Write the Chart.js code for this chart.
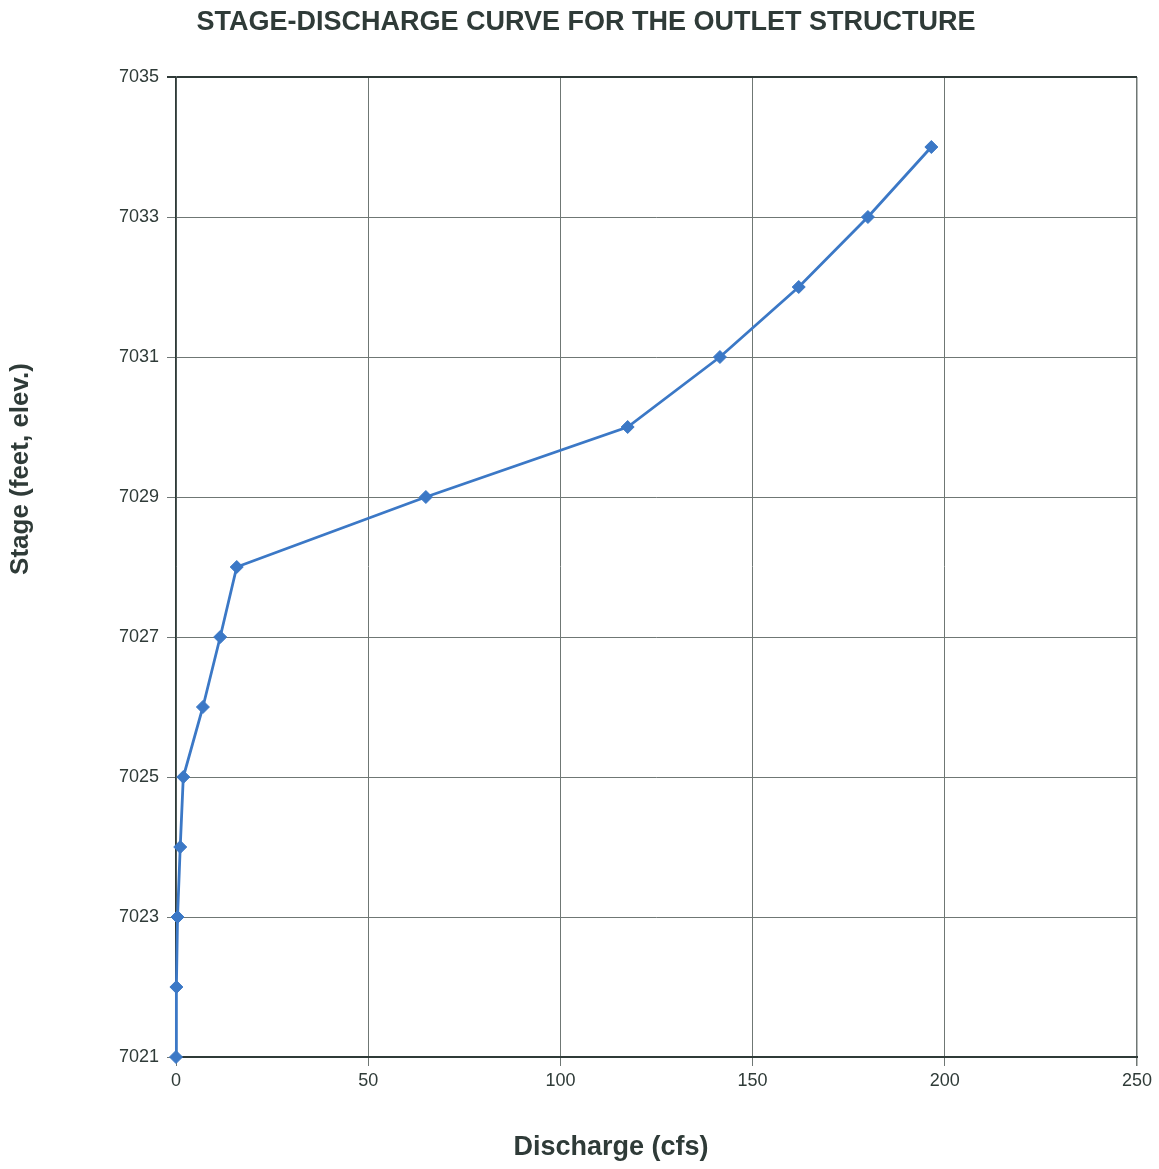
<!DOCTYPE html>
<html>
<head>
<meta charset="utf-8">
<title>Stage-Discharge Curve</title>
<script src="https://cdn.jsdelivr.net/npm/chart.js@4/dist/chart.umd.min.js"></script>
<style>
    html, body { margin: 0; padding: 0; background: #ffffff; }
    #stageChart { display: block; }
</style>
</head>
<body>
<canvas id="stageChart" width="1159" height="1169"></canvas>
<script>
// rating table for the outlet structure
const discharge = [0, 0.1, 0.4, 1.1, 1.9, 7.0, 11.5, 15.8, 65.0, 117.5, 141.5, 162.0, 180.0, 196.5];
const stage = [7021, 7022, 7023, 7024, 7025, 7026, 7027, 7028, 7029, 7030, 7031, 7032, 7033, 7034];

const xTicks = [0, 50, 100, 150, 200, 250];
const yTicks = [7021, 7023, 7025, 7027, 7029, 7031, 7033, 7035];

const chartTitle = "STAGE-DISCHARGE CURVE FOR THE OUTLET STRUCTURE";
const xTitle = "Discharge (cfs)";
const yTitle = "Stage (feet, elev.)";

const inkColor = "#2f3b38";
const gridColor = "#6f7774";
const curveColor = "#3b78c6";
const fontFamily = "'Liberation Sans', Arial, sans-serif";

// title and axis captions are placed by hand (they are not centred on the plot)
const captions = {
    id: "captions",
    afterDraw(chart) {
        const ctx = chart.ctx;
        ctx.save();
        ctx.fillStyle = inkColor;
        ctx.textAlign = "center";
        ctx.textBaseline = "middle";

        ctx.font = "bold 27px " + fontFamily;
        ctx.fillText(chartTitle, 586, 23);

        ctx.font = "bold 27px " + fontFamily;
        ctx.fillText(xTitle, 611, 1148);

        ctx.translate(21, 469);
        ctx.rotate(-Math.PI / 2);
        ctx.font = "bold 26px " + fontFamily;
        ctx.fillText(yTitle, 0, 0);
        ctx.restore();
    }
};

const points = discharge.map((q, i) => ({ x: q, y: stage[i] }));

const ctx = document.getElementById("stageChart").getContext("2d");
new Chart(ctx, {
    type: "scatter",
    data: {
        datasets: [{
            label: "Stage",
            data: points,
            showLine: true,
            borderColor: curveColor,
            borderWidth: 2.8,
            backgroundColor: curveColor,
            pointStyle: "rectRot",
            pointRadius: 6.5,
            pointBorderWidth: 1,
            pointBorderColor: curveColor,
            clip: false
        }]
    },
    options: {
        responsive: false,
        animation: false,
        layout: {
            padding: { left: 110, right: 22, bottom: 67, top: 77 }
        },
        plugins: {
            legend: { display: false },
            tooltip: { enabled: false },
            title: { display: false }
        },
        scales: {
            x: {
                type: "linear",
                min: 0,
                max: 250,
                afterBuildTicks: scale => { scale.ticks = xTicks.map(v => ({ value: v })); },
                afterFit: scale => { scale.height = 45; },
                ticks: {
                    color: inkColor,
                    padding: 4,
                    font: { family: fontFamily, size: 18 },
                    callback: v => String(v)
                },
                grid: {
                    color: gridColor,
                    lineWidth: c => (c.tick && c.tick.value === 250 ? 1.5 : 1),
                    tickLength: 9
                },
                border: { color: inkColor, width: 2 }
            },
            y: {
                type: "linear",
                min: 7021,
                max: 7035,
                afterBuildTicks: scale => { scale.ticks = yTicks.map(v => ({ value: v })); },
                afterFit: scale => { scale.width = 66; },
                ticks: {
                    color: inkColor,
                    padding: 8,
                    font: { family: fontFamily, size: 18 },
                    callback: v => String(v)
                },
                grid: {
                    color: c => (c.tick && c.tick.value === 7035 ? inkColor : gridColor),
                    lineWidth: c => (c.tick && c.tick.value === 7035 ? 2 : 1),
                    tickLength: 9
                },
                border: { color: inkColor, width: 1.5 }
            }
        }
    },
    plugins: [captions]
});
</script>
</body>
</html>
